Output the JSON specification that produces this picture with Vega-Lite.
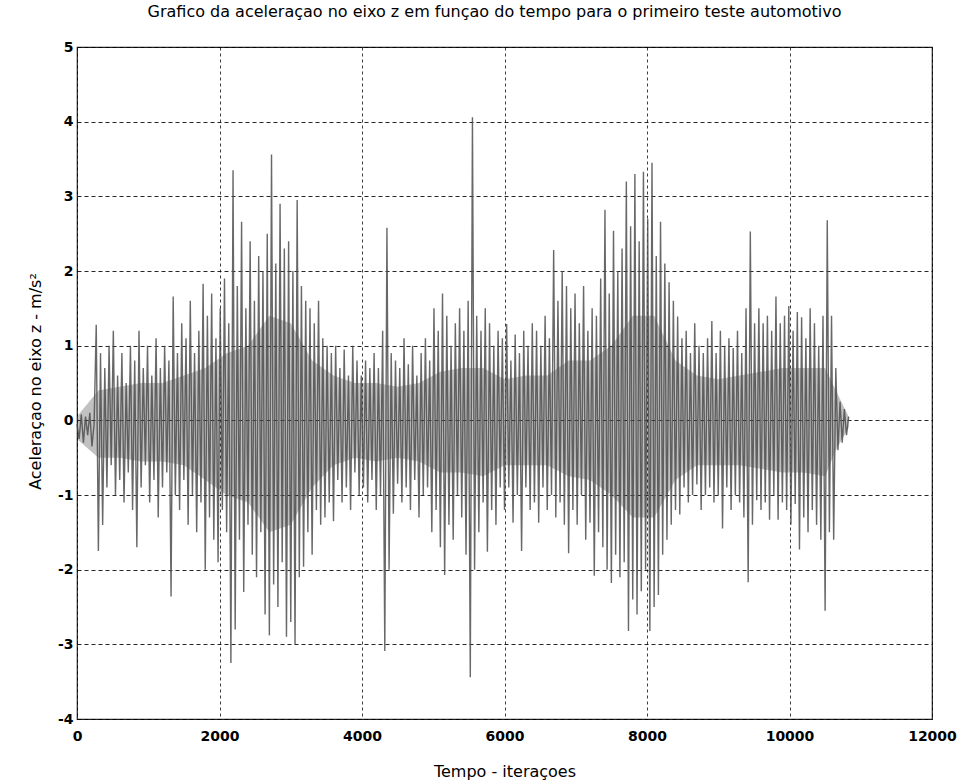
{
  "$schema": "https://vega.github.io/schema/vega-lite/v6.json",
  "width": 855,
  "height": 672,
  "autosize": {"type": "none"},
  "padding": {"left": 77, "top": 47, "right": 29, "bottom": 63},
  "background": "#ffffff",
  "title": {
    "text": "Grafico da aceleraçao no eixo z em funçao do tempo para o primeiro teste automotivo",
    "font": "DejaVu Sans",
    "fontSize": 16,
    "fontWeight": "normal",
    "color": "#000000",
    "anchor": "middle",
    "offset": 20,
    "dx": -10
  },
  "config": {
    "view": {"stroke": "#222222", "strokeWidth": 1.2},
    "axis": {
      "labelFont": "DejaVu Sans",
      "labelFontWeight": "bold",
      "labelFontSize": 14,
      "labelColor": "#000000",
      "titleFont": "DejaVu Sans",
      "titleFontWeight": "normal",
      "titleFontSize": 16,
      "titleColor": "#000000",
      "domain": false,
      "ticks": false,
      "grid": true,
      "gridColor": "#000000",
      "gridOpacity": 0.85
    }
  },
  "datasets": {
    "core": [
      {"t":0,"lo":-0.25,"hi":0.05},{"t":300,"lo":-0.5,"hi":0.4},{"t":600,"lo":-0.5,"hi":0.45},{"t":900,"lo":-0.55,"hi":0.5},{"t":1200,"lo":-0.55,"hi":0.5},
      {"t":1500,"lo":-0.6,"hi":0.6},{"t":1800,"lo":-0.8,"hi":0.7},{"t":2100,"lo":-1.0,"hi":0.9},{"t":2400,"lo":-1.1,"hi":1.0},{"t":2700,"lo":-1.5,"hi":1.4},
      {"t":3000,"lo":-1.4,"hi":1.3},{"t":3300,"lo":-0.9,"hi":0.8},{"t":3600,"lo":-0.6,"hi":0.6},{"t":3900,"lo":-0.5,"hi":0.5},{"t":4200,"lo":-0.55,"hi":0.5},
      {"t":4500,"lo":-0.5,"hi":0.45},{"t":4800,"lo":-0.55,"hi":0.5},{"t":5100,"lo":-0.7,"hi":0.65},{"t":5400,"lo":-0.7,"hi":0.7},{"t":5700,"lo":-0.75,"hi":0.7},
      {"t":6000,"lo":-0.6,"hi":0.55},{"t":6300,"lo":-0.6,"hi":0.6},{"t":6600,"lo":-0.6,"hi":0.6},{"t":6900,"lo":-0.75,"hi":0.8},{"t":7200,"lo":-0.8,"hi":0.8},
      {"t":7500,"lo":-1.0,"hi":1.0},{"t":7800,"lo":-1.3,"hi":1.4},{"t":8100,"lo":-1.3,"hi":1.4},{"t":8400,"lo":-0.8,"hi":0.8},{"t":8700,"lo":-0.6,"hi":0.6},
      {"t":9000,"lo":-0.6,"hi":0.55},{"t":9300,"lo":-0.6,"hi":0.6},{"t":9600,"lo":-0.65,"hi":0.65},{"t":9900,"lo":-0.7,"hi":0.7},{"t":10200,"lo":-0.7,"hi":0.7},
      {"t":10500,"lo":-0.75,"hi":0.7},{"t":10650,"lo":-0.4,"hi":0.4},{"t":10830,"lo":-0.1,"hi":0.05}
    ],
    "signal": [
      {"t":0,"a":-0.05},{"t":30,"a":-0.25},{"t":60,"a":0.08},{"t":90,"a":-0.3},{"t":120,"a":0.05},{"t":150,"a":-0.2},{"t":180,"a":0.1},{"t":210,"a":-0.35},{"t":240,"a":-0.05},{"t":270,"a":1.28},
      {"t":300,"a":-1.75},{"t":330,"a":0.9},{"t":360,"a":-1.4},{"t":390,"a":0.7},{"t":420,"a":-0.9},{"t":450,"a":1.0},{"t":480,"a":-0.6},{"t":510,"a":1.2},{"t":540,"a":-1.0},{"t":570,"a":0.6},
      {"t":600,"a":-0.8},{"t":630,"a":0.9},{"t":660,"a":-1.1},{"t":690,"a":0.5},{"t":720,"a":-0.7},{"t":750,"a":1.0},{"t":780,"a":-1.2},{"t":810,"a":0.8},{"t":840,"a":-1.7},{"t":870,"a":1.2},
      {"t":900,"a":-0.9},{"t":930,"a":0.7},{"t":960,"a":-0.6},{"t":990,"a":1.0},{"t":1020,"a":-1.1},{"t":1050,"a":0.6},{"t":1080,"a":-0.8},{"t":1110,"a":1.1},{"t":1140,"a":-1.3},{"t":1170,"a":0.7},
      {"t":1200,"a":-0.9},{"t":1230,"a":1.0},{"t":1260,"a":-0.7},{"t":1290,"a":0.8},{"t":1320,"a":-2.36},{"t":1350,"a":1.66},{"t":1380,"a":-1.0},{"t":1410,"a":0.9},{"t":1440,"a":-1.2},{"t":1470,"a":1.3},
      {"t":1500,"a":-0.8},{"t":1530,"a":1.1},{"t":1560,"a":-1.4},{"t":1590,"a":1.6},{"t":1620,"a":-1.0},{"t":1650,"a":0.9},{"t":1680,"a":-1.5},{"t":1710,"a":1.2},{"t":1740,"a":-1.1},{"t":1770,"a":1.83},
      {"t":1800,"a":-2.0},{"t":1830,"a":1.4},{"t":1860,"a":-1.3},{"t":1890,"a":1.7},{"t":1920,"a":-1.6},{"t":1950,"a":1.1},{"t":1980,"a":-1.9},{"t":2010,"a":1.5},{"t":2040,"a":-1.2},{"t":2070,"a":1.9},
      {"t":2100,"a":-1.5},{"t":2130,"a":1.3},{"t":2160,"a":-3.25},{"t":2190,"a":3.35},{"t":2220,"a":-2.8},{"t":2250,"a":1.8},{"t":2280,"a":-1.6},{"t":2310,"a":2.66},{"t":2340,"a":-2.3},{"t":2370,"a":1.5},
      {"t":2400,"a":-1.4},{"t":2430,"a":2.4},{"t":2460,"a":-1.8},{"t":2490,"a":1.6},{"t":2520,"a":-2.1},{"t":2550,"a":2.2},{"t":2580,"a":-1.5},{"t":2610,"a":2.0},{"t":2640,"a":-2.6},{"t":2670,"a":2.5},
      {"t":2700,"a":-2.88},{"t":2730,"a":3.56},{"t":2760,"a":-2.2},{"t":2790,"a":2.1},{"t":2820,"a":-2.5},{"t":2850,"a":2.9},{"t":2880,"a":-1.9},{"t":2910,"a":2.3},{"t":2940,"a":-2.9},{"t":2970,"a":2.4},
      {"t":3000,"a":-2.7},{"t":3030,"a":2.0},{"t":3060,"a":-3.0},{"t":3090,"a":2.95},{"t":3120,"a":-2.1},{"t":3150,"a":1.8},{"t":3180,"a":-1.96},{"t":3210,"a":1.6},{"t":3240,"a":-1.5},{"t":3270,"a":1.5},
      {"t":3300,"a":-1.8},{"t":3330,"a":1.3},{"t":3360,"a":-1.2},{"t":3390,"a":1.6},{"t":3420,"a":-1.4},{"t":3450,"a":1.1},{"t":3480,"a":-1.3},{"t":3510,"a":1.0},{"t":3540,"a":-1.1},{"t":3570,"a":0.9},
      {"t":3600,"a":-1.35},{"t":3630,"a":1.0},{"t":3660,"a":-0.8},{"t":3690,"a":0.7},{"t":3720,"a":-1.1},{"t":3750,"a":0.95},{"t":3780,"a":-0.9},{"t":3810,"a":0.6},{"t":3840,"a":-1.2},{"t":3870,"a":1.0},
      {"t":3900,"a":-0.7},{"t":3930,"a":0.8},{"t":3960,"a":-1.0},{"t":3990,"a":0.6},{"t":4020,"a":-0.9},{"t":4050,"a":0.8},{"t":4080,"a":-1.1},{"t":4110,"a":0.7},{"t":4140,"a":-0.8},{"t":4170,"a":0.9},
      {"t":4200,"a":-1.2},{"t":4230,"a":0.7},{"t":4260,"a":-1.0},{"t":4290,"a":1.2},{"t":4320,"a":-3.09},{"t":4350,"a":2.58},{"t":4380,"a":-2.0},{"t":4410,"a":0.9},{"t":4440,"a":-1.25},{"t":4470,"a":0.8},
      {"t":4500,"a":-0.85},{"t":4530,"a":0.7},{"t":4560,"a":-1.1},{"t":4590,"a":1.1},{"t":4620,"a":-0.9},{"t":4650,"a":0.75},{"t":4680,"a":-1.2},{"t":4710,"a":1.0},{"t":4740,"a":-0.8},{"t":4770,"a":0.6},
      {"t":4800,"a":-1.3},{"t":4830,"a":0.9},{"t":4860,"a":-1.0},{"t":4890,"a":1.1},{"t":4920,"a":-0.9},{"t":4950,"a":0.8},{"t":4980,"a":-1.5},{"t":5010,"a":1.5},{"t":5040,"a":-1.2},{"t":5070,"a":1.2},
      {"t":5100,"a":-1.7},{"t":5130,"a":1.7},{"t":5160,"a":-2.07},{"t":5190,"a":1.4},{"t":5220,"a":-1.4},{"t":5250,"a":1.0},{"t":5280,"a":-1.6},{"t":5310,"a":1.3},{"t":5340,"a":-1.0},{"t":5370,"a":1.5},
      {"t":5400,"a":-1.3},{"t":5430,"a":1.2},{"t":5460,"a":-1.8},{"t":5490,"a":1.6},{"t":5520,"a":-3.44},{"t":5550,"a":4.06},{"t":5580,"a":-2.0},{"t":5610,"a":1.4},{"t":5640,"a":-1.5},{"t":5670,"a":1.2},
      {"t":5700,"a":-1.1},{"t":5730,"a":1.5},{"t":5760,"a":-1.76},{"t":5790,"a":1.3},{"t":5820,"a":-1.2},{"t":5850,"a":1.0},{"t":5880,"a":-1.4},{"t":5910,"a":1.2},{"t":5940,"a":-0.9},{"t":5970,"a":1.1},
      {"t":6000,"a":-1.2},{"t":6030,"a":1.29},{"t":6060,"a":-0.9},{"t":6090,"a":0.8},{"t":6120,"a":-1.37},{"t":6150,"a":1.15},{"t":6180,"a":-1.0},{"t":6210,"a":0.9},{"t":6240,"a":-1.75},{"t":6270,"a":1.2},
      {"t":6300,"a":-0.9},{"t":6330,"a":1.0},{"t":6360,"a":-1.2},{"t":6390,"a":1.3},{"t":6420,"a":-1.1},{"t":6450,"a":1.2},{"t":6480,"a":-1.37},{"t":6510,"a":1.0},{"t":6540,"a":-0.9},{"t":6570,"a":1.4},
      {"t":6600,"a":-1.2},{"t":6630,"a":1.1},{"t":6660,"a":-1.0},{"t":6690,"a":2.28},{"t":6720,"a":-1.3},{"t":6750,"a":1.6},{"t":6780,"a":-1.1},{"t":6810,"a":2.0},{"t":6840,"a":-1.4},{"t":6870,"a":1.8},
      {"t":6900,"a":-1.78},{"t":6930,"a":1.5},{"t":6960,"a":-1.2},{"t":6990,"a":1.7},{"t":7020,"a":-1.4},{"t":7050,"a":1.3},{"t":7080,"a":-1.0},{"t":7110,"a":1.8},{"t":7140,"a":-1.6},{"t":7170,"a":1.2},
      {"t":7200,"a":-1.37},{"t":7230,"a":1.5},{"t":7260,"a":-2.08},{"t":7290,"a":1.4},{"t":7320,"a":-1.5},{"t":7350,"a":1.9},{"t":7380,"a":-1.7},{"t":7410,"a":2.82},{"t":7440,"a":-2.0},{"t":7470,"a":1.7},
      {"t":7500,"a":-2.18},{"t":7530,"a":2.54},{"t":7560,"a":-1.8},{"t":7590,"a":2.0},{"t":7620,"a":-2.1},{"t":7650,"a":2.3},{"t":7680,"a":-1.9},{"t":7710,"a":3.2},{"t":7740,"a":-2.82},{"t":7770,"a":2.6},
      {"t":7800,"a":-2.4},{"t":7830,"a":3.3},{"t":7860,"a":-2.6},{"t":7890,"a":2.4},{"t":7920,"a":-2.29},{"t":7950,"a":3.33},{"t":7980,"a":-2.0},{"t":8010,"a":2.7},{"t":8040,"a":-2.82},{"t":8070,"a":3.45},
      {"t":8100,"a":-2.5},{"t":8130,"a":2.2},{"t":8160,"a":-2.34},{"t":8190,"a":2.66},{"t":8220,"a":-1.8},{"t":8250,"a":2.1},{"t":8280,"a":-1.6},{"t":8310,"a":1.85},{"t":8340,"a":-1.4},{"t":8370,"a":1.6},
      {"t":8400,"a":-1.2},{"t":8430,"a":1.39},{"t":8460,"a":-1.26},{"t":8490,"a":1.1},{"t":8520,"a":-0.9},{"t":8550,"a":1.2},{"t":8580,"a":-1.1},{"t":8610,"a":0.9},{"t":8640,"a":-1.0},{"t":8670,"a":1.3},
      {"t":8700,"a":-0.86},{"t":8730,"a":1.0},{"t":8760,"a":-1.2},{"t":8790,"a":0.9},{"t":8820,"a":-1.0},{"t":8850,"a":1.1},{"t":8880,"a":-0.9},{"t":8910,"a":1.33},{"t":8940,"a":-1.1},{"t":8970,"a":0.9},
      {"t":9000,"a":-1.0},{"t":9030,"a":1.2},{"t":9060,"a":-1.45},{"t":9090,"a":1.0},{"t":9120,"a":-0.9},{"t":9150,"a":1.1},{"t":9180,"a":-1.2},{"t":9210,"a":0.97},{"t":9240,"a":-1.0},{"t":9270,"a":1.2},
      {"t":9300,"a":-1.1},{"t":9330,"a":0.9},{"t":9360,"a":-1.3},{"t":9390,"a":1.5},{"t":9420,"a":-2.17},{"t":9450,"a":2.53},{"t":9480,"a":-1.4},{"t":9510,"a":1.3},{"t":9540,"a":-1.07},{"t":9570,"a":1.5},
      {"t":9600,"a":-1.2},{"t":9630,"a":1.3},{"t":9660,"a":-1.1},{"t":9690,"a":1.4},{"t":9720,"a":-1.33},{"t":9750,"a":1.2},{"t":9780,"a":-1.0},{"t":9810,"a":1.66},{"t":9840,"a":-1.33},{"t":9870,"a":1.3},
      {"t":9900,"a":-1.1},{"t":9930,"a":1.4},{"t":9960,"a":-1.2},{"t":9990,"a":1.53},{"t":10020,"a":-1.4},{"t":10050,"a":1.2},{"t":10080,"a":-1.12},{"t":10110,"a":1.45},{"t":10140,"a":-1.73},{"t":10170,"a":1.38},
      {"t":10200,"a":-1.3},{"t":10230,"a":1.1},{"t":10260,"a":-1.5},{"t":10290,"a":1.5},{"t":10320,"a":-1.2},{"t":10350,"a":1.3},{"t":10380,"a":-1.4},{"t":10410,"a":1.0},{"t":10440,"a":-1.6},{"t":10470,"a":1.4},
      {"t":10500,"a":-2.55},{"t":10530,"a":2.68},{"t":10560,"a":-1.5},{"t":10590,"a":1.4},{"t":10620,"a":-1.6},{"t":10650,"a":0.7},{"t":10680,"a":-0.4},{"t":10710,"a":0.25},{"t":10740,"a":-0.3},{"t":10770,"a":0.15},
      {"t":10800,"a":-0.2},{"t":10830,"a":0.05}
    ]
  },
  "encoding": {
    "x": {
      "field": "t",
      "type": "quantitative",
      "scale": {"domain": [0, 12000], "nice": false, "zero": false},
      "axis": {
        "title": "Tempo - iteraçoes",
        "values": [0, 2000, 4000, 6000, 8000, 10000, 12000],
        "labelExpr": "'' + datum.value",
        "labelPadding": 10,
        "labelFlush": false,
        "gridDash": [3, 3],
        "gridWidth": 0.9,
        "titleY": 57,
        "titleBaseline": "alphabetic"
      }
    }
  },
  "layer": [
    {
      "data": {"name": "core"},
      "mark": {"type": "area", "color": "#333333", "opacity": 0.3, "interpolate": "linear"},
      "encoding": {
        "y": {
          "field": "lo",
          "type": "quantitative",
          "scale": {"domain": [-4, 5], "nice": false, "zero": false},
          "axis": {
            "title": "Aceleraçao no eixo z - m/s²",
            "values": [-4, -3, -2, -1, 0, 1, 2, 3, 4, 5],
            "labelExpr": "'' + datum.value",
            "labelPadding": 4,
            "labelFlush": false,
            "gridDash": [4, 3],
            "gridWidth": 1.1,
            "titleX": -37,
            "titleY": 334,
            "titleBaseline": "alphabetic"
          }
        },
        "y2": {"field": "hi"}
      }
    },
    {
      "data": {"name": "signal"},
      "mark": {"type": "line", "stroke": "#4d4d4d", "strokeWidth": 1.4, "strokeOpacity": 0.85},
      "encoding": {
        "y": {"field": "a", "type": "quantitative"}
      }
    }
  ]
}
